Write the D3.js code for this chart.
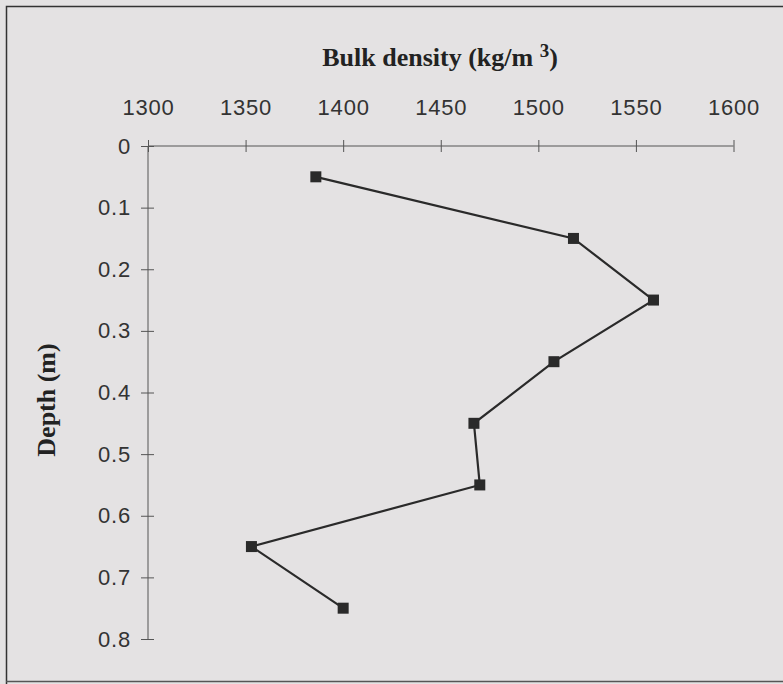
<!DOCTYPE html>
<html><head><meta charset="utf-8">
<script src="https://cdn.jsdelivr.net/npm/d3@7"></script>
<style>body{margin:0;background:#e4e2e3;}svg{display:block;}</style>
</head><body>
<script>
const depths = [0.05, 0.15, 0.25, 0.35, 0.45, 0.55, 0.65, 0.75];
const density = [1386, 1518, 1559, 1508, 1467, 1470, 1353, 1400];
const xTicks = [1300, 1350, 1400, 1450, 1500, 1550, 1600];
const yTicks = [0, 0.1, 0.2, 0.3, 0.4, 0.5, 0.6, 0.7, 0.8];

const W = 783, H = 684;
const svg = d3.select("body").append("svg").attr("width", W).attr("height", H);
svg.append("rect").attr("width", W).attr("height", H).attr("fill", "#e4e2e3");
// scan frame
svg.append("path").attr("d", "M6.5,684 V6.5 H783").attr("fill","none").attr("stroke","#333").attr("stroke-width",1.5);
svg.append("line").attr("x1",6).attr("x2",783).attr("y1",681.5).attr("y2",681.5).attr("stroke","#555").attr("stroke-width",1.5);

const x = d3.scaleLinear().domain([1300, 1600]).range([148, 733.5]);
const y = d3.scaleLinear().domain([0, 0.8]).range([146, 639]);

const axisColor = "#555";
const tickFont = "Liberation Sans, Arial, sans-serif";
// X axis (top)
const gx = svg.append("g").attr("transform", "translate(0,146)")
  .call(d3.axisTop(x).tickValues(xTicks).tickFormat(d3.format("d")).tickSize(6).tickPadding(25));
gx.select(".domain").attr("stroke", axisColor).attr("d", `M${x(1300)},0H${x(1600)}`);
gx.selectAll(".tick line").attr("stroke", axisColor).attr("y1", 6).attr("y2", -6);
gx.selectAll(".tick text").attr("font-family", tickFont)
  .attr("font-size", 22).attr("letter-spacing", "0.8px").attr("fill", "#333").attr("dy", "0");

// Y axis
const gy = svg.append("g").attr("transform", "translate(148,0)")
  .call(d3.axisLeft(y).tickValues(yTicks).tickFormat(d => d === 0 ? "0" : d3.format(".1f")(d)).tickSize(6).tickPadding(11));
gy.select(".domain").attr("stroke", axisColor).attr("d", `M0,${y(0)}V${y(0.8)}`);
gy.selectAll(".tick line").attr("stroke", axisColor).attr("x1", 6).attr("x2", -7);
gy.selectAll(".tick text").attr("font-family", tickFont)
  .attr("font-size", 22).attr("letter-spacing", "0.8px").attr("fill", "#333");

// Data line
const pts = depths.map((d, i) => [density[i], d]);
svg.append("path").datum(pts)
  .attr("fill", "none").attr("stroke", "#2a2a2a").attr("stroke-width", 2.2)
  .attr("d", d3.line().x(d => x(d[0])).y(d => y(d[1])));
svg.selectAll("rect.pt").data(pts).join("rect").attr("class", "pt")
  .attr("x", d => x(d[0]) - 5.5).attr("y", d => y(d[1]) - 5.5)
  .attr("width", 11).attr("height", 11).attr("fill", "#2a2a2a");

// Titles
const t = svg.append("text").attr("x", 440).attr("y", 66).attr("text-anchor", "middle")
  .attr("font-family", "Liberation Serif, Times New Roman, serif").attr("font-weight", "bold")
  .attr("font-size", 26).attr("fill", "#222");
t.append("tspan").text("Bulk density (kg/m ");
t.append("tspan").attr("dy", -9).attr("font-size", 19).text("3");
t.append("tspan").attr("dy", 9).text(")");

svg.append("text").attr("transform", "translate(55,400) rotate(-90)").attr("text-anchor", "middle")
  .attr("font-family", "Liberation Serif, Times New Roman, serif").attr("font-weight", "bold")
  .attr("font-size", 26).attr("fill", "#222").text("Depth (m)");
</script>
</body></html>
